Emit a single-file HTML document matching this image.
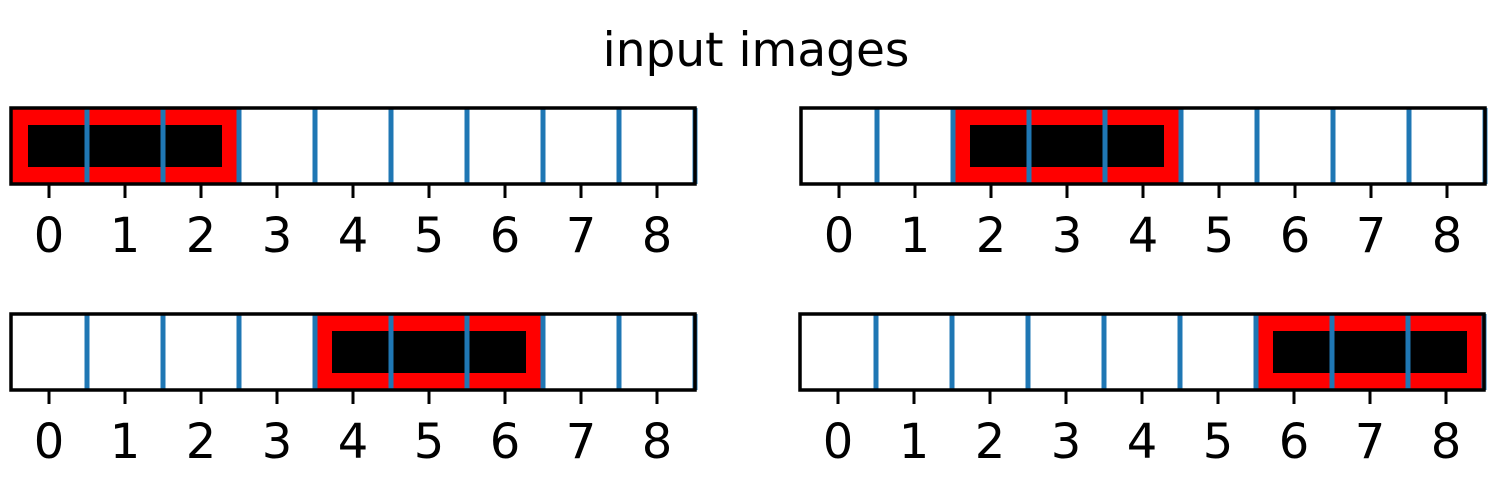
<!DOCTYPE html>
<html><head><meta charset="utf-8"><style>
body{margin:0;background:#fff;}
svg{display:block;font-family:"DejaVu Sans","Liberation Sans",sans-serif;}
</style></head><body>
<svg id="fig" width="1499" height="482">
<text x="756" y="66" font-size="47" text-anchor="middle">input images</text>
</svg>
<script>
const starts = [0, 2, 4, 6];
const objLength = [3, 3, 3, 3];
const tickLabels = ["0","1","2","3","4","5","6","7","8"];
const panelNames = ["panel-top-left","panel-top-right","panel-bottom-left","panel-bottom-right"];
const NS="http://www.w3.org/2000/svg";
const svg=document.getElementById('fig');
const layout=[{x:11,y:108,w:684,h:76},{x:801,y:108,w:684,h:76},{x:11,y:314,w:684,h:76},{x:800,y:314,w:684,h:76}];
function mk(t,a,p){const e=document.createElementNS(NS,t);for(const k in a)e.setAttribute(k,a[k]);(p||svg).appendChild(e);return e;}
layout.forEach((L,i)=>{
  const g=mk('g',{});
  
  
  const u=L.w/9;
  const sx=v=>L.x+(v+0.5)*u;
  const s=starts[i], n=objLength[i];
  const red=mk('rect',{x:sx(s-0.5),y:L.y,width:n*u,height:L.h,fill:'#ff0000'},g);
  
  
  const blk=mk('rect',{x:sx(s-0.5)+17,y:L.y+17,width:n*u-34,height:L.h-34,fill:'#000'},g);
  
  
  for(let k=0;k<9;k++){
    const ln=mk('line',{x1:sx(k+0.5),x2:sx(k+0.5),y1:L.y,y2:L.y+L.h,stroke:'#1f77b4','stroke-width':5},g);
    
    
  }
  const fr=mk('rect',{x:L.x,y:L.y,width:L.w,height:L.h,fill:'none',stroke:'#000','stroke-width':3.5},g);
  
  
  tickLabels.forEach((t,k)=>{
    const tk=mk('line',{x1:sx(k),x2:sx(k),y1:L.y+L.h,y2:L.y+L.h+14,stroke:'#000','stroke-width':3},g);
    
    
    const tx=mk('text',{x:sx(k),y:L.y+L.h+68,'font-size':48,'text-anchor':'middle'},g);
    tx.textContent=t;
    
    
  });
});
</script>
</body></html>
